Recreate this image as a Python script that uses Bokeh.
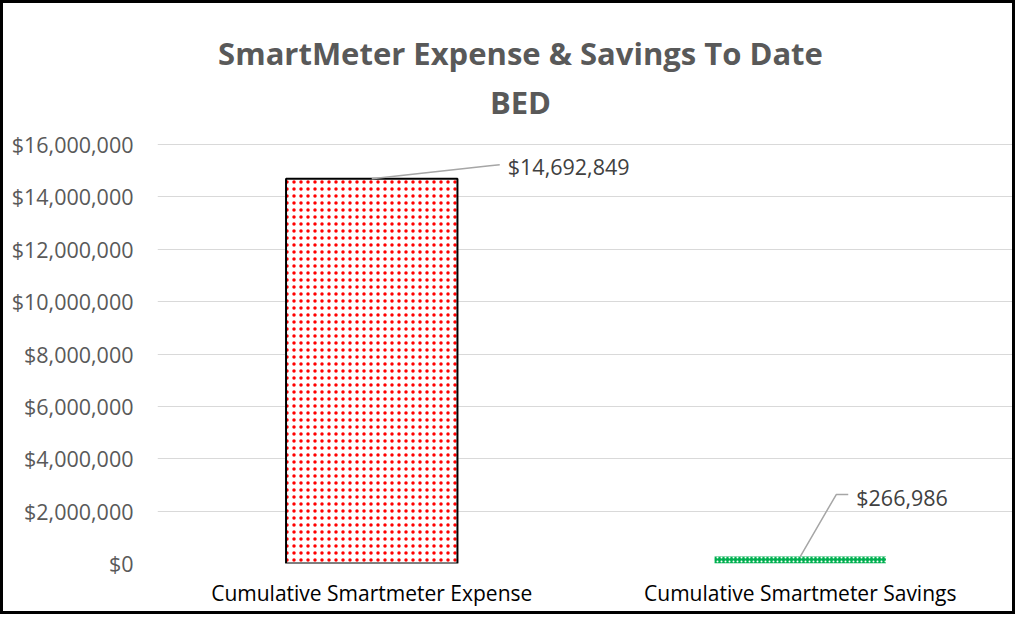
from bokeh.plotting import figure
from bokeh.models import (ColumnDataSource, FixedTicker, NumeralTickFormatter, Label, FactorRange, Range1d)
from bokeh.core.properties import value
from bokeh.embed import file_html
from bokeh.resources import INLINE

# ---- data ----
categories = ["Cumulative Smartmeter Expense", "Cumulative Smartmeter Savings"]
values = [14692849, 266986]
value_labels = ["$14,692,849", "$266,986"]
y_ticks = [0, 2000000, 4000000, 6000000, 8000000, 10000000, 12000000, 14000000, 16000000]
title_line1 = "SmartMeter Expense & Savings To Date"
title_line2 = "BED"

FONT = "Open Sans"
BORDER = 3
W, H = 1015, 614            # canvas size (CSS border adds 3px each side)
ML, MR, MT, MB = 154, 4, 0, 54
YMAX = 16000000
TOP_PX = 141                # pixels between frame top and the $16M gridline

frame_w = W - ML - MR
frame_h = H - MT - MB
axis_h = frame_h - TOP_PX
px_y = YMAX / axis_h
px_x = 2.0 / frame_w
y_end = YMAX + TOP_PX * px_y

p = figure(x_range=FactorRange(*categories), y_range=Range1d(0, y_end), width=W, height=H,
           output_backend="svg", toolbar_location=None,
           min_border_left=ML, min_border_right=MR, min_border_top=MT, min_border_bottom=MB)
p.styles = {"border": "%dpx solid black" % BORDER}

src1 = ColumnDataSource(dict(x=[categories[0]], top=[values[0]]))
src2 = ColumnDataSource(dict(x=[categories[1]], top=[values[1]]))
p.vbar(x="x", top="top", width=0.4, source=src1, fill_color="white",
       line_color="black", line_width=2, hatch_pattern="dot", hatch_color="#FF0000",
       hatch_scale=7, hatch_weight=0.5)
p.vbar(x="x", top="top", width=0.4, source=src2, fill_color="#00B050",
       line_color=None, hatch_pattern="dot", hatch_color="white",
       hatch_scale=4, hatch_weight=0.5)

# axes
p.yaxis.ticker = FixedTicker(ticks=y_ticks)
p.yaxis.formatter = NumeralTickFormatter(format="$0,0")
p.yaxis.axis_line_color = None
p.yaxis.major_tick_line_color = None
p.yaxis.minor_tick_line_color = None
p.yaxis.major_tick_out = 0
p.yaxis.major_label_standoff = 24
p.yaxis.major_label_text_font = FONT
p.yaxis.major_label_text_font_size = "21.5px"
p.yaxis.major_label_text_color = "#595959"

p.xaxis.axis_line_color = None
p.xaxis.major_tick_line_color = None
p.xaxis.major_tick_out = 0
p.xaxis.major_label_standoff = 15
p.xaxis.major_label_text_font = FONT
p.xaxis.major_label_text_font_size = "21px"
p.xaxis.major_label_text_color = "#000000"

p.xgrid.grid_line_color = None
p.ygrid.grid_line_color = "#D9D9D9"
p.ygrid.grid_line_width = 1
p.outline_line_color = None
p.background_fill_color = "white"
p.border_fill_color = "white"

# title, drawn inside the (extended) frame
tx = (520 - 157) * px_x
p.text(x=[tx, tx], y=[YMAX + 92 * px_y, YMAX + 43 * px_y], text=[title_line1, title_line2],
       text_align="center", text_baseline="alphabetic", text_font=value(FONT),
       text_font_style="bold", text_font_size="31px", text_color="#595959")

# data labels with leader lines
centers = [0.5, 1.5]
lab_dx = [136, 56]
lab_dy = [12, 59]
leaders = [[(0, 0), (118, 13), (128, 14)], [(0, 0), (36, 62), (48, 62)]]
for c, v, t, dx, dy, pts in zip(centers, values, value_labels, lab_dx, lab_dy, leaders):
    xs = [c + a * px_x for a, b in pts]
    ys = [v + b * px_y for a, b in pts]
    p.line(xs, ys, line_color="#A6A6A6", line_width=1.5)
    p.add_layout(Label(x=c + dx * px_x, y=v + dy * px_y, text=t, text_align="left",
                       text_baseline="middle", text_font=FONT, text_font_size="21.5px",
                       text_color="#404040"))

open("out.html", "w").write(file_html(p, INLINE))
